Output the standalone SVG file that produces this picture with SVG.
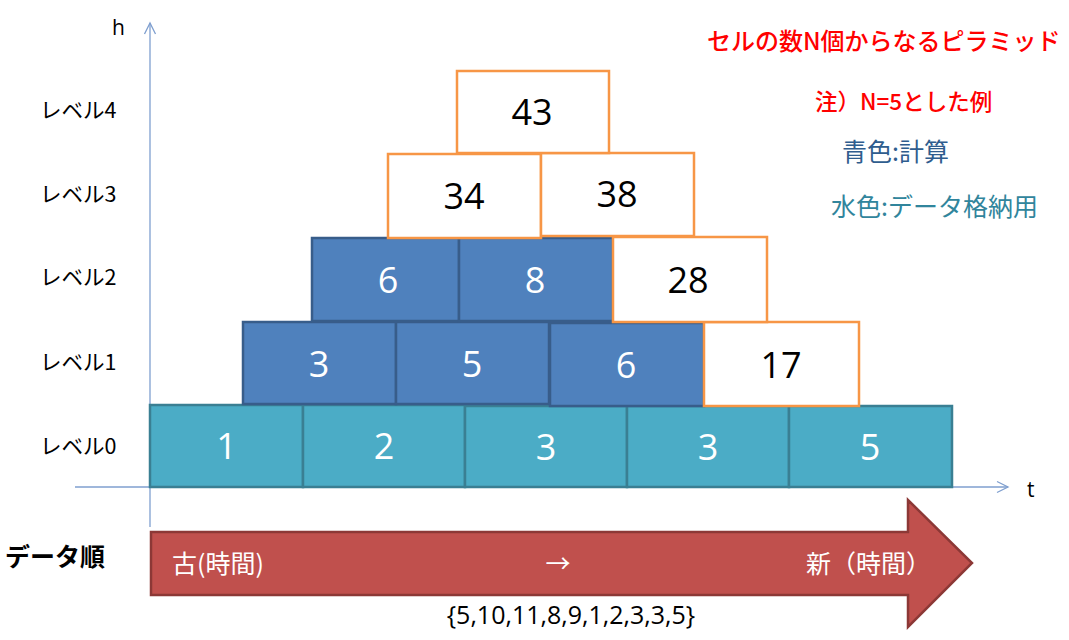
<svg xmlns="http://www.w3.org/2000/svg" width="1069" height="640" viewBox="0 0 1069 640">
<style>
.teal{fill:#4BACC6;stroke:#3A7F93;stroke-width:2.5}
.blue{fill:#4F81BD;stroke:#385D8A;stroke-width:2.5}
.org{fill:#FFFFFF;stroke:#F79646;stroke-width:2.5}
.num{font-family:"Open Sans","Noto Sans",sans-serif;font-size:36px;text-anchor:middle}
.w{fill:#FFFFFF}
.k{fill:#000000}
.lvl{font-family:"Noto Sans CJK JP",sans-serif;font-size:21.5px;fill:#000}
.axis{stroke:#7F9FCF;stroke-width:1.3;fill:none}
.jp{font-family:"Noto Sans CJK JP",sans-serif}
</style>
<rect width="1069" height="640" fill="#FFFFFF"/>
<g id="connectors">
  <line class="axis" x1="150" y1="527" x2="150" y2="23"/>
  <polyline class="axis" points="144.5,34 150,23 155.5,34"/>
  <line class="axis" x1="75" y1="487" x2="1008" y2="487"/>
  <polyline class="axis" points="997,481.5 1008,487 997,492.5"/>
</g>
<g id="axis-labels">
  <text x="112" y="35" font-family="'Open Sans','Noto Sans',sans-serif" font-size="21">h</text>
  <text x="1027" y="497" font-family="'Open Sans','Noto Sans',sans-serif" font-size="21">t</text>
  <text class="lvl" x="40" y="118">レベル4</text>
  <text class="lvl" x="40" y="202">レベル3</text>
  <text class="lvl" x="40" y="285">レベル2</text>
  <text class="lvl" x="40" y="370">レベル1</text>
  <text class="lvl" x="40" y="454">レベル0</text>
</g>
<g id="level0">
  <g id="c0-1"><rect class="teal" x="150" y="405" width="153" height="82"/><text class="num w" x="226.5" y="459">1</text></g>
  <g id="c0-2"><rect class="teal" x="303" y="405" width="162" height="82"/><text class="num w" x="384" y="459">2</text></g>
  <g id="c0-3"><rect class="teal" x="465" y="406" width="162" height="81"/><text class="num w" x="546" y="460">3</text></g>
  <g id="c0-4"><rect class="teal" x="627" y="406" width="162" height="81"/><text class="num w" x="708" y="460">3</text></g>
  <g id="c0-5"><rect class="teal" x="789" y="406" width="163" height="81"/><text class="num w" x="870" y="460">5</text></g>
</g>
<g id="level1">
  <g id="c1-1"><rect class="blue" x="243" y="322" width="153" height="82"/><text class="num w" x="319" y="377">3</text></g>
  <g id="c1-2"><rect class="blue" x="396" y="322" width="153" height="82"/><text class="num w" x="472" y="377">5</text></g>
  <g id="c1-3"><rect class="blue" x="550" y="323" width="154" height="83"/><text class="num w" x="626" y="378">6</text></g>
  <g id="c1-4"><rect class="org" x="704" y="322" width="155" height="84"/><text class="num k" x="781" y="378">17</text></g>
</g>
<g id="level2">
  <g id="c2-1"><rect class="blue" x="312" y="238" width="147" height="83"/><text class="num w" x="388" y="293">6</text></g>
  <g id="c2-2"><rect class="blue" x="459" y="238" width="154" height="83"/><text class="num w" x="535" y="293">8</text></g>
  <g id="c2-3"><rect class="org" x="613" y="237" width="154" height="85"/><text class="num k" x="688" y="293">28</text></g>
</g>
<g id="level3">
  <g id="c3-1"><rect class="org" x="388" y="154" width="153" height="84"/><text class="num k" x="464" y="209">34</text></g>
  <g id="c3-2"><rect class="org" x="541" y="153" width="153" height="83"/><text class="num k" x="617" y="207">38</text></g>
</g>
<g id="level4">
  <g id="c4-1"><rect class="org" x="457" y="71" width="152" height="82"/><text class="num k" x="532" y="125">43</text></g>
</g>
<g id="legend">
  <text class="jp" x="707" y="50" font-size="24" font-weight="500" fill="#FF0000">セルの数N個からなるピラミッド</text>
  <text class="jp" x="815" y="110" font-size="22.5" font-weight="500" fill="#FF0000">注）N=5とした例</text>
  <text class="jp" x="842" y="161" font-size="25" fill="#2F5D8E">青色:計算</text>
  <text class="jp" x="831" y="216" font-size="25" fill="#31859C">水色:データ格納用</text>
</g>
<g id="time-arrow">
  <polygon points="151,532 908,532 908,500 972,563 908,627 908,595 151,595" fill="#C0504D" stroke="#8C3836" stroke-width="2.5"/>
  <text class="jp" x="172" y="573" font-size="25" fill="#FFFFFF">古(時間)</text>
  <text class="jp" x="558" y="573" font-size="25" fill="#FFFFFF" text-anchor="middle">→</text>
  <text class="jp" x="806" y="573" font-size="25" fill="#FFFFFF">新（時間）</text>
  <text class="jp" x="5" y="566" font-size="25" font-weight="bold" fill="#000">データ順</text>
  <text x="571" y="624" font-family="'Open Sans','Noto Sans',sans-serif" font-size="25" text-anchor="middle" fill="#000">{5,10,11,8,9,1,2,3,3,5}</text>
</g>
</svg>
